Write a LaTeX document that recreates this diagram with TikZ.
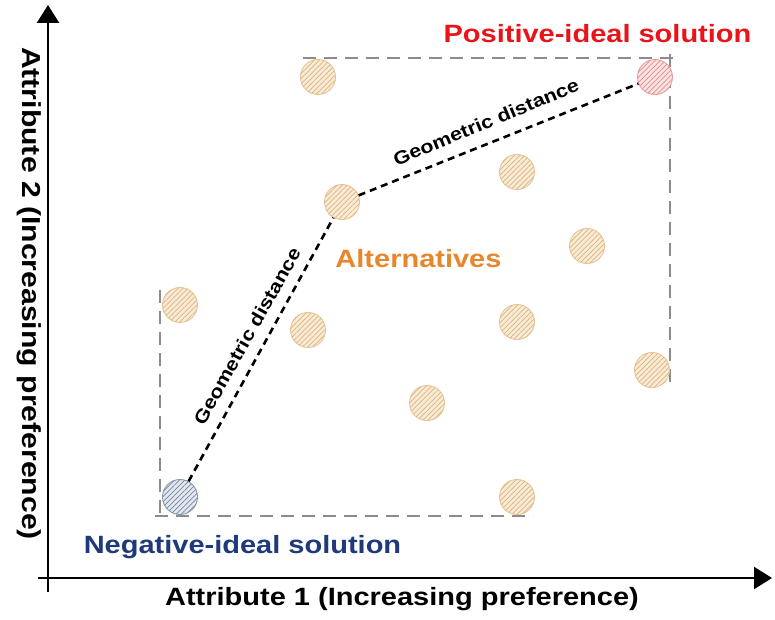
\documentclass[tikz,border=0pt]{standalone}
\usepackage{fontspec}
\newfontfamily\lab[FakeStretch=1.16]{Liberation Sans}
\usetikzlibrary{arrows.meta,patterns.meta}
\definecolor{altfill}{HTML}{F9EBD6}
\definecolor{althatch}{HTML}{DDB27A}
\definecolor{altdraw}{HTML}{E6C697}
\definecolor{posfill}{HTML}{FBE3E3}
\definecolor{poshatch}{HTML}{E48A8A}
\definecolor{posdraw}{HTML}{E6A0A0}
\definecolor{negfill}{HTML}{E4E8EE}
\definecolor{neghatch}{HTML}{6F86A0}
\definecolor{negdraw}{HTML}{8A9BB0}
\definecolor{boxgray}{HTML}{8C8C8C}
\definecolor{posred}{HTML}{E8141A}
\definecolor{negblue}{HTML}{1F3A7A}
\definecolor{altorange}{HTML}{E8862C}
\tikzset{
  dot/.style={circle, minimum size=35pt, inner sep=0pt, line width=0.9pt},
  altdot/.style={dot, draw=altdraw, fill=altfill,
    postaction={pattern={Lines[angle=45,distance=3.6pt,line width=0.7pt]}, pattern color=althatch}},
  posdot/.style={dot, draw=posdraw, fill=posfill,
    postaction={pattern={Lines[angle=45,distance=3.6pt,line width=0.7pt]}, pattern color=poshatch}},
  negdot/.style={dot, draw=negdraw, fill=negfill,
    postaction={pattern={Lines[angle=45,distance=3.6pt,line width=0.7pt]}, pattern color=neghatch}},
  graybox/.style={draw=boxgray, line width=2.8pt, dash pattern=on 13pt off 8pt},
  geo/.style={draw=black, line width=2.6pt, dash pattern=on 7pt off 5pt},
  axis/.style={draw=black, line width=2.4pt, -{Triangle[length=18pt,width=22pt]}},
  biglab/.style={font=\lab\bfseries\fontsize{25}{28}\selectfont, inner sep=0pt},
  geolab/.style={font=\lab\bfseries\fontsize{18.5}{21}\selectfont, inner sep=0pt},
}
\begin{document}
\begin{tikzpicture}[x=1pt,y=1pt]
\useasboundingbox (0,0) rectangle (775,619);
% axes
\draw[axis] (48,27) -- (48,614);
\draw[axis] (38,41) -- (772,41);
% dashed boxes
\draw[graybox] (160,329) -- (160,98);
\draw[graybox] (155,103) -- (533,103);
\draw[graybox] (303,561) -- (677,561);
\draw[graybox] (670,565) -- (670,234);
% alternatives
\node[altdot] (c1) at (318,542) {};
\node[altdot] (c3) at (342,417) {};
\node[altdot] (c4) at (517,447) {};
\node[altdot] (c5) at (587,373) {};
\node[altdot] (c6) at (180,314) {};
\node[altdot] (c7) at (308,289) {};
\node[altdot] (c8) at (517,297) {};
\node[altdot] (c9) at (652,249) {};
\node[altdot] (c10) at (427,216) {};
\node[altdot] (c11) at (517,122) {};
\node[posdot] (pos) at (655,542) {};
\node[negdot] (neg) at (180,122) {};
% distances
\draw[geo] (neg) -- (c3) -- (pos);
\node[geolab, rotate=22.5] (g1) at (486,497) {Geometric distance};
\node[geolab, rotate=60.7] (g2) at (247,283) {Geometric distance};
% labels
\node[biglab, text=posred, anchor=base] (lpos) at (597.5,576) {Positive-ideal solution};
\node[biglab, text=negblue, anchor=base] (lneg) at (242.5,66) {Negative-ideal solution};
\node[biglab, text=altorange, anchor=base] (lalt) at (418.5,352) {Alternatives};
\node[biglab, anchor=base] (lx) at (402,14) {Attribute 1 (Increasing preference)};
\node[biglab, font=\lab\bfseries\fontsize{26}{29}\selectfont, anchor=base, rotate=-90] (ly) at (22,325.5) {Attribute 2 (Increasing preference)};
\end{tikzpicture}
\end{document}
